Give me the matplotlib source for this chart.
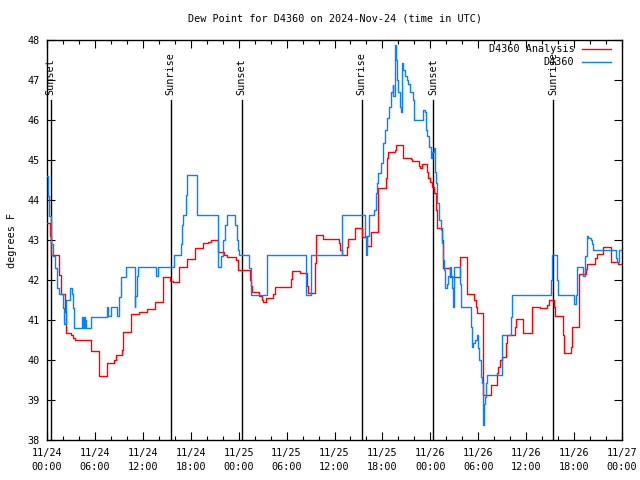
import matplotlib
matplotlib.use("Agg")
import matplotlib.pyplot as plt
import numpy as np

# ---- data (hours since 2024-11-24 00:00 UTC, degrees F) ----
obs_hours = [0.00, 0.13, 0.31, 0.44, 0.56, 0.75, 1.00, 1.19, 1.31, 1.47, 2.00, 2.13, 2.38, 2.94, 3.07,
             3.26, 3.44, 4.42, 4.55, 4.63, 4.72, 4.82, 4.92, 5.55, 7.48, 7.68, 8.05, 8.80, 9.05, 9.23,
             9.30, 9.89, 10.98, 11.06, 11.31, 11.40, 13.65, 13.86, 15.90, 16.74, 16.87, 17.07, 17.41,
             17.57, 18.82, 21.41, 21.79, 22.08, 22.29, 22.50, 23.54, 23.75, 23.95, 24.08, 25.33, 25.55,
             27.51, 32.43, 33.02, 36.90, 39.82, 39.95, 40.13, 40.32, 40.95, 41.16, 41.28, 41.49, 41.79,
             42.04, 42.33, 42.61, 42.86, 43.08, 43.29, 43.36, 43.58, 43.70, 43.79, 43.99, 44.20, 44.33,
             44.45, 44.62, 44.83, 45.04, 45.24, 45.46, 45.87, 45.99, 47.05, 47.30, 47.46, 47.62, 47.80,
             48.05, 48.25, 48.46, 48.55, 48.71, 48.87, 49.12, 49.30, 49.46, 49.55, 49.71, 49.88, 50.05,
             50.25, 50.46, 50.59, 50.71, 50.80, 50.88, 50.97, 51.72, 51.84, 53.06, 53.18, 53.38, 53.59,
             53.81, 54.01, 54.13, 54.31, 54.43, 54.56, 54.63, 54.72, 54.85, 54.97, 55.06, 57.01, 58.07,
             58.19, 63.07, 63.20, 63.90, 64.03, 66.03, 66.21, 66.33, 67.16, 67.37, 67.58, 67.78, 68.08,
             68.25, 68.41, 71.25, 71.42, 71.59, 72.00]
obs_vals = [44.6, 44.1, 43.6, 43.2, 42.9, 42.6, 42.3, 42.0, 41.8, 41.65, 41.3, 40.9, 41.5, 41.8, 41.65,
            41.3, 40.8, 41.07, 40.8, 41.07, 40.8, 41.0, 40.8, 41.07, 41.33, 41.1, 41.33, 41.1, 41.58, 41.9,
            42.07, 42.33, 41.33, 41.6, 42.1, 42.33, 42.1, 42.33, 42.62, 42.9, 43.38, 43.63, 44.13,
            44.63, 43.63, 42.33, 42.6, 43.0, 43.38, 43.63, 43.38, 43.0, 42.75, 42.62, 42.3, 41.62,
            42.62, 41.62, 42.62, 43.62, 43.1, 42.62, 43.1, 43.63, 43.75, 44.17, 44.42, 44.67, 44.92,
            45.42, 45.75, 46.05, 46.33, 46.7, 46.87, 46.6, 47.87, 47.5, 47.0, 46.7, 46.33, 46.2,
            47.42, 47.25, 47.1, 47.0, 46.9, 46.7, 46.5, 46.0, 46.25, 46.2, 45.75, 45.6, 45.33,
            45.05, 45.2, 45.3, 44.7, 44.42, 43.92, 43.5, 43.25, 42.92, 42.5, 42.25, 41.8, 41.9,
            42.1, 42.33, 42.1, 41.8, 41.58, 41.33, 42.33, 41.9, 41.33, 40.83, 40.33, 40.42, 40.5,
            40.63, 40.3, 40.0, 39.58, 39.42, 39.08, 38.38, 38.9, 39.08, 39.42, 39.63, 40.63, 41.08,
            41.62, 42.0, 42.62, 42.0, 41.62, 41.4, 41.62, 42.33, 42.1, 42.6, 43.1, 43.05, 43.0,
            42.9, 42.75, 42.55, 42.45, 42.75, 42.75]

ana_hours = [0.00, 0.34, 0.46, 0.56, 1.50, 1.72, 2.25, 2.38, 2.97, 3.29, 3.47, 5.47, 6.45, 6.51, 7.55,
             8.39, 8.60, 9.35, 9.52, 10.48, 10.56, 11.56, 12.56, 13.52, 14.49, 15.40, 15.82, 16.57,
             17.49, 18.53, 19.57, 20.16, 20.50, 21.45, 22.16, 22.50, 23.67, 23.95, 25.42, 25.55, 25.63,
             26.59, 26.89, 27.09, 27.42, 28.34, 28.55, 30.52, 30.64, 31.68, 32.52, 32.65, 33.56, 33.68,
             34.60, 36.60, 36.69, 36.90, 37.53, 37.65, 38.57, 39.48, 40.03, 40.57, 41.41, 41.49, 42.41,
             42.54, 42.66, 43.58, 43.67, 44.62, 45.58, 45.67, 46.58, 46.71, 46.92, 47.55, 47.75, 47.96,
             48.17, 48.46, 48.71, 48.87, 49.50, 49.62, 50.46, 51.71, 52.55, 52.63, 53.47, 53.68, 53.81,
             54.56, 54.63, 55.64, 56.31, 56.51, 56.73, 56.94, 57.48, 57.64, 58.60, 58.73, 59.65, 60.69,
             61.73, 62.65, 62.83, 63.53, 63.66, 64.65, 64.70, 65.58, 65.71, 66.66, 67.50, 67.58, 68.62,
             68.81, 69.66, 70.62, 71.54, 72.00]
ana_vals = [43.42, 43.1, 42.8, 42.62, 42.12, 41.65, 41.2, 40.67, 40.62, 40.55, 40.5, 40.22, 39.8, 39.6, 39.92,
            40.0, 40.12, 40.25, 40.69, 40.92, 41.15, 41.21, 41.27, 41.44, 42.08, 41.98, 41.94, 42.33,
            42.52, 42.79, 42.92, 42.95, 43.0, 42.71, 42.62, 42.58, 42.5, 42.25, 42.0, 41.85, 41.7,
            41.6, 41.5, 41.45, 41.54, 41.65, 41.83, 42.03, 42.22, 42.18, 41.85, 41.67, 42.42, 43.12,
            43.02, 42.92, 42.75, 42.62, 42.83, 43.02, 43.29, 43.08, 42.86, 43.19, 43.62, 44.31, 44.54,
            45.04, 45.21, 45.25, 45.37, 45.06, 45.03, 44.97, 44.86, 44.8, 44.89, 44.71, 44.54, 44.46,
            44.33, 44.17, 43.75, 43.29, 43.0, 42.29, 42.08, 42.57, 42.11, 41.65, 41.5, 41.33, 41.17,
            40.12, 39.12, 39.37, 39.67, 39.83, 40.0, 40.08, 40.42, 40.63, 40.83, 41.02, 40.67, 41.33,
            41.29, 41.38, 41.5, 41.33, 41.1, 40.63, 40.17, 40.33, 40.82, 42.15, 42.27, 42.4, 42.54,
            42.65, 42.83, 42.45, 42.39, 42.39]

sun_hours = [0.46, 15.49, 24.38, 39.41, 48.37, 63.40]
sun_labels = ["Sunset", "Sunrise", "Sunset", "Sunrise", "Sunset", "Sunrise"]

xtick_hours = [0, 6, 12, 18, 24, 30, 36, 42, 48, 54, 60, 66, 72]
xtick_labels = ["11/24\n00:00", "11/24\n06:00", "11/24\n12:00", "11/24\n18:00",
                "11/25\n00:00", "11/25\n06:00", "11/25\n12:00", "11/25\n18:00",
                "11/26\n00:00", "11/26\n06:00", "11/26\n12:00", "11/26\n18:00",
                "11/27\n00:00"]
ytick_vals = [38, 39, 40, 41, 42, 43, 44, 45, 46, 47, 48]

series_names = ["D4360 Analysis", "D4360"]
series_colors = ["#ff0000", "#0a7fff"]

# ---- figure ----
FONT = "DejaVu Sans Mono"
FS = 7.3
plt.rcParams['font.family'] = FONT
fig = plt.figure(figsize=(6.4, 4.8), dpi=100)
ax = fig.add_axes([47 / 640, 40 / 480, 575 / 640, 400 / 480])

ax.step(ana_hours, ana_vals, where='post', color=series_colors[0], lw=1.0, zorder=3)
ax.step(obs_hours, obs_vals, where='post', color=series_colors[1], lw=1.0, zorder=4)

for h, lab in zip(sun_hours, sun_labels):
    ax.plot([h, h], [38, 46.5], color='black', lw=1.0, zorder=2)
    ax.text(h, 46.62, lab, rotation=90, ha='center', va='bottom', fontsize=FS, zorder=5)

ax.set_xlim(0, 72)
ax.set_ylim(38, 48)
ax.set_xticks(xtick_hours)
ax.set_xticklabels(xtick_labels, fontsize=FS, linespacing=1.45)
ax.set_xticks(np.arange(0, 73, 2), minor=True)
ax.set_yticks(ytick_vals)
ax.set_yticklabels([str(v) for v in ytick_vals], fontsize=FS)
ax.tick_params(which='major', direction='in', length=6, width=0.8, top=True, right=True, pad=5)
ax.tick_params(which='minor', direction='in', length=3, width=0.8, top=True, right=True)
ax.tick_params(axis='x', which='major', pad=6)
for s in ax.spines.values():
    s.set_linewidth(1.0)

ax.set_ylabel("degrees F", fontsize=FS, labelpad=8)
ax.set_title("Dew Point for D4360 on 2024-Nov-24 (time in UTC)", fontsize=FS, pad=13)

# legend (right aligned text, line samples)
leg_y = [0.977, 0.945]
for name, col, yy in zip(series_names, series_colors, leg_y):
    ax.text(0.917, yy, name, transform=ax.transAxes, ha='right', va='center', fontsize=FS, zorder=6)
    ax.plot([0.93, 0.98], [yy, yy], transform=ax.transAxes, color=col, lw=1.0, zorder=6)

fig.savefig("out.png", dpi=100)
